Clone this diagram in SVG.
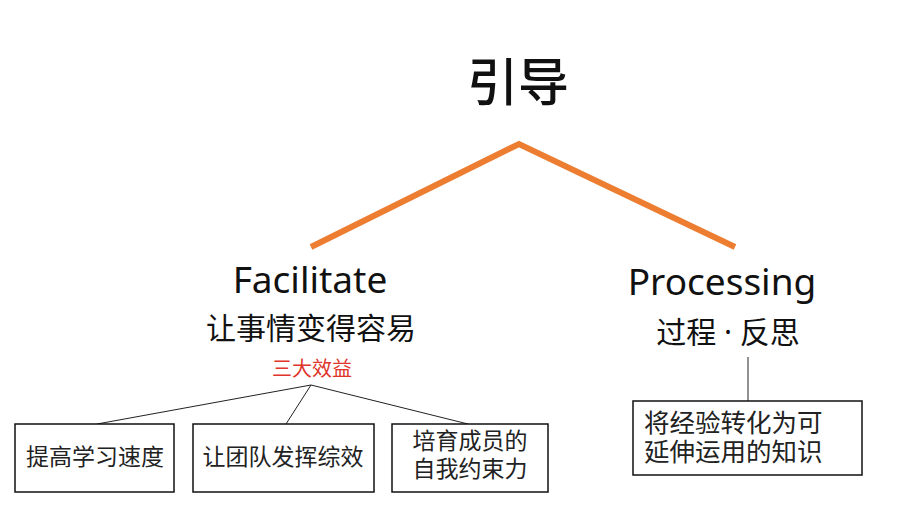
<svg xmlns="http://www.w3.org/2000/svg" width="920" height="510" viewBox="0 0 920 510">
<style>
text{font-family:"Noto Sans","Noto Sans CJK SC",sans-serif;fill:#111;}
.en{font-size:37px;text-anchor:middle;}
.zh{font-size:30px;text-anchor:middle;}
.box{fill:#fff;stroke:#111;stroke-width:1.5;}
.bt{font-size:23px;text-anchor:middle;fill:#222;font-family:"Liberation Sans","Noto Sans CJK SC",sans-serif;}
.bl{font-size:25.5px;fill:#222;font-family:"Liberation Sans","Noto Sans CJK SC",sans-serif;}
.thin{fill:none;stroke:#222;stroke-width:1;}
</style>
<rect width="920" height="510" fill="#fff"/>
<g id="connectors">
<polyline points="311,247 519,144 735,247" fill="none" stroke="#ED7D31" stroke-width="6"/>
<line class="thin" x1="311" y1="385" x2="97" y2="424"/>
<line class="thin" x1="311" y1="385" x2="286" y2="424"/>
<line class="thin" x1="311" y1="385" x2="468" y2="424"/>
<line class="thin" x1="748" y1="357" x2="748" y2="401"/>
</g>
<g id="root">
<text x="518" y="101" style="font-size:51px;text-anchor:middle;font-family:'Noto Sans CJK SC',sans-serif;font-weight:500">引导</text>
</g>
<g id="facilitate">
<text class="en" x="310" y="293">Facilitate</text>
<text class="zh" x="311" y="339">让事情变得容易</text>
<text x="312" y="376" style="font-size:20px;text-anchor:middle;fill:#E0352B">三大效益</text>
</g>
<g id="processing">
<text class="en" x="722" y="295">Processing</text>
<text class="zh" x="728" y="343">过程 · 反思</text>
</g>
<g id="b1">
<rect class="box" x="15" y="424" width="159" height="68"/>
<text class="bt" x="95" y="465">提高学习速度</text>
</g>
<g id="b2">
<rect class="box" x="193" y="424" width="181" height="68"/>
<text class="bt" x="283" y="465">让团队发挥综效</text>
</g>
<g id="b3">
<rect class="box" x="392" y="424" width="156" height="68"/>
<text class="bt"><tspan x="470" y="449">培育成员的</tspan><tspan x="470" y="477">自我约束力</tspan></text>
</g>
<g id="b4">
<rect class="box" x="633" y="401" width="229" height="74"/>
<text class="bl"><tspan x="644" y="432">将经验转化为可</tspan><tspan x="644" y="461">延伸运用的知识</tspan></text>
</g>
</svg>
